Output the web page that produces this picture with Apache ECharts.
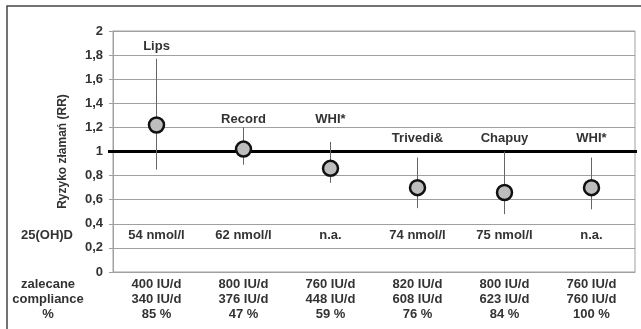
<!DOCTYPE html>
<html>
<head>
<meta charset="utf-8">
<script src="https://cdn.jsdelivr.net/npm/echarts@6/dist/echarts.min.js"></script>
<style>
  html, body { margin: 0; padding: 0; background: #fff; }
  #chart { width: 641px; height: 329px; }
</style>
</head>
<body>
<div id="chart"></div>
<script>
// Study names and relative risk of fracture with 95% confidence bounds
const studies = ['Lips', 'Record', 'WHI*', 'Trivedi&', 'Chapuy', 'WHI*'];
const rr      = [1.22, 1.02, 0.86, 0.70, 0.66, 0.70];
const ciLow   = [0.85, 0.89, 0.74, 0.53, 0.48, 0.52];
const ciHigh  = [1.77, 1.20, 1.08, 0.95, 1.00, 0.95];
// height (RR units) at which each study name is written
const nameLevel = [1.87, 1.27, 1.27, 1.11, 1.11, 1.11];

// Serum 25(OH)D reached in each study, written at RR level serumLevel
const serum = ['54 nmol/l', '62 nmol/l', 'n.a.', '74 nmol/l', '75 nmol/l', 'n.a.'];
const serumLevel = 0.3;
// Recommended dose, dose actually taken, compliance
const recommended = ['400 IU/d', '800 IU/d', '760 IU/d', '820 IU/d', '800 IU/d', '760 IU/d'];
const taken       = ['340 IU/d', '376 IU/d', '448 IU/d', '608 IU/d', '623 IU/d', '760 IU/d'];
const compliance  = ['85 %', '47 %', '59 %', '76 %', '84 %', '100 %'];

// y-axis ticks
const yMin = 0, yMax = 2, yStep = 0.2;

const categories = recommended.map((r, i) => r + '\n' + taken[i] + '\n' + compliance[i]);
const font = '"Liberation Sans", Arial, sans-serif';
const textColor = '#333';

const chart = echarts.init(document.getElementById('chart'), null, { renderer: 'canvas' });

chart.setOption({
  animation: false,
  backgroundColor: '#fff',
  textStyle: { fontFamily: font },
  grid: {
    left: 113, right: 6, top: 31, bottom: 57,
    show: true, borderColor: '#a0a0a0', borderWidth: 1
  },
  xAxis: {
    type: 'category',
    data: categories,
    axisLine: { show: true, lineStyle: { color: '#a0a0a0', width: 1 } },
    axisTick: { show: false },
    axisLabel: {
      margin: 5, interval: 0,
      fontFamily: font, fontWeight: 'bold', fontSize: 13,
      color: textColor, lineHeight: 15
    },
    splitLine: { show: false }
  },
  yAxis: {
    type: 'value',
    min: yMin, max: yMax, interval: yStep,
    name: 'Ryzyko złamań (RR)',
    nameLocation: 'middle',
    nameRotate: 90,
    nameGap: 44,
    nameTextStyle: { fontFamily: font, fontWeight: 'bold', fontSize: 12, color: textColor },
    axisLine: { show: true, lineStyle: { color: '#a0a0a0', width: 1 } },
    axisTick: { show: true, length: 4, lineStyle: { color: '#a0a0a0' } },
    axisLabel: {
      margin: 10,
      fontFamily: font, fontWeight: 'bold', fontSize: 13, color: textColor,
      formatter: v => String(+v.toFixed(1)).replace('.', ',')
    },
    splitLine: { show: true, lineStyle: { color: '#a0a0a0', width: 1 } }
  },
  graphic: [
    {
      type: 'rect', silent: true, z: -1,
      shape: { x: 7, y: 6, width: 640, height: 340 },
      style: { fill: 'none', stroke: '#444', lineWidth: 1.5 }
    },
    {
      type: 'text', silent: true,
      x: 47, y: 235,
      style: { text: '25(OH)D', align: 'center', verticalAlign: 'middle',
               font: 'bold 13px ' + font, fill: textColor }
    },
    {
      type: 'text', silent: true,
      x: 48, y: 299,
      style: { text: 'zalecane\ncompliance\n%', align: 'center', verticalAlign: 'middle',
               lineHeight: 15, font: 'bold 13px ' + font, fill: textColor }
    }
  ],
  series: [
    {
      // reference line at RR = 1
      type: 'custom',
      z: 3,
      data: [[0, 1]],
      renderItem: (params, api) => {
        const cs = params.coordSys;
        const p = api.coord([0, 1]);
        return {
          type: 'line',
          shape: { x1: cs.x - 5, y1: p[1], x2: cs.x + cs.width + 2, y2: p[1] },
          style: { stroke: '#000', lineWidth: 3 }
        };
      }
    },
    {
      // confidence intervals, study names and serum 25(OH)D
      type: 'custom',
      z: 4,
      data: rr.map((v, i) => [i, ciLow[i], ciHigh[i], nameLevel[i], serumLevel]),
      renderItem: (params, api) => {
        const i = api.value(0);
        const lo = api.coord([i, api.value(1)]);
        const hi = api.coord([i, api.value(2)]);
        const nm = api.coord([i, api.value(3)]);
        const sr = api.coord([i, api.value(4)]);
        return {
          type: 'group',
          children: [
            {
              type: 'line',
              shape: { x1: lo[0], y1: lo[1], x2: hi[0], y2: hi[1] },
              style: { stroke: '#666', lineWidth: 1 }
            },
            {
              type: 'text',
              style: {
                text: studies[params.dataIndex], x: nm[0], y: nm[1],
                align: 'center', verticalAlign: 'middle',
                font: 'bold 13px ' + font, fill: textColor
              }
            },
            {
              type: 'text',
              style: {
                text: serum[params.dataIndex], x: sr[0], y: sr[1],
                align: 'center', verticalAlign: 'middle',
                font: 'bold 13px ' + font, fill: textColor
              }
            }
          ]
        };
      }
    },
    {
      // relative risk point estimates
      type: 'scatter',
      z: 5,
      symbol: 'circle',
      symbolSize: 15,
      data: rr.map((v, i) => [i, v]),
      itemStyle: { color: '#bdbdbd', borderColor: '#111', borderWidth: 2.5, opacity: 1 }
    }
  ]
});
</script>
</body>
</html>
